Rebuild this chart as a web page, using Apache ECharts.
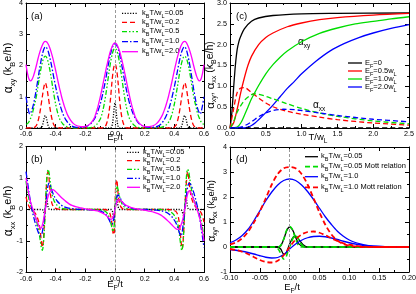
<!DOCTYPE html>
<html><head><meta charset="utf-8">
<script src="https://cdn.jsdelivr.net/npm/echarts@6/dist/echarts.min.js"></script>
<style>html,body{margin:0;padding:0;background:#fff}#c{width:416px;height:294px}</style>
</head><body><div id="c"></div>
<script>
// ---------- labels ----------
const tempLabels = ['0.05','0.2','0.5','1.0','2.0'];
const efLabels = ['0','0.5w','1.0w','2.0w'];
const efSubs = ['', 'L', 'L', 'L'];
const dLegendLabels = ['=0.05','=0.05 Mott relation','=1.0','=1.0 Mott relation'];

// ---------- panel (a): alpha_xy vs E_F/t ----------
const aT005 = [[-0.6,0],[-0.5,0],[-0.495,0.02],[-0.49,0.07],[-0.485,0.16],[-0.48,0.27],[-0.475,0.36],[-0.47,0.4],[-0.465,0.36],[-0.46,0.27],[-0.455,0.16],[-0.45,0.07],[-0.445,0.02],[-0.44,0],
 [-0.03,0],[-0.025,0.02],[-0.02,0.07],[-0.015,0.2],[-0.01,0.42],[-0.005,0.68],[0,0.8],[0.005,0.68],[0.01,0.42],[0.015,0.2],[0.02,0.07],[0.025,0.02],[0.03,0],
 [0.44,0],[0.445,0.02],[0.45,0.07],[0.455,0.16],[0.46,0.27],[0.465,0.36],[0.47,0.4],[0.475,0.36],[0.48,0.27],[0.485,0.16],[0.49,0.07],[0.495,0.02],[0.5,0],[0.6,0]];
const aT02 = [[-0.6,0],[-0.55,0],[-0.54,0.03],[-0.53,0.08],[-0.52,0.2],[-0.51,0.4],[-0.5,0.68],[-0.49,1.0],[-0.48,1.3],[-0.47,1.45],[-0.46,1.3],[-0.45,1.0],[-0.44,0.68],[-0.43,0.4],[-0.42,0.2],[-0.41,0.08],[-0.4,0.03],[-0.39,0],
 [-0.08,0],[-0.07,0.03],[-0.06,0.1],[-0.05,0.25],[-0.04,0.52],[-0.03,0.95],[-0.02,1.5],[-0.01,1.9],[0,2.05],[0.01,1.9],[0.02,1.5],[0.03,0.95],[0.04,0.52],[0.05,0.25],[0.06,0.1],[0.07,0.03],[0.08,0],
 [0.39,0],[0.4,0.03],[0.41,0.08],[0.42,0.2],[0.43,0.4],[0.44,0.68],[0.45,1.0],[0.46,1.3],[0.47,1.45],[0.48,1.3],[0.49,1.0],[0.5,0.68],[0.51,0.4],[0.52,0.2],[0.53,0.08],[0.54,0.03],[0.55,0],[0.6,0]];
const aT05 = [[-0.6,0.12],[-0.59,0.14],[-0.58,0.2],[-0.57,0.3],[-0.56,0.42],[-0.55,0.6],[-0.54,0.8],[-0.53,1.02],[-0.52,1.3],[-0.51,1.6],[-0.5,1.88],[-0.49,2.1],[-0.48,2.25],[-0.47,2.3],[-0.46,2.25],[-0.45,2.1],[-0.44,1.88],[-0.43,1.6],[-0.42,1.3],[-0.41,1.02],[-0.4,0.76],[-0.39,0.55],[-0.38,0.38],[-0.37,0.26],[-0.35,0.12],[-0.33,0.05],[-0.31,0.02],[-0.28,0],
 [-0.18,0],[-0.16,0.02],[-0.14,0.05],[-0.12,0.13],[-0.1,0.28],[-0.09,0.41],[-0.08,0.6],[-0.07,0.84],[-0.06,1.13],[-0.05,1.46],[-0.04,1.8],[-0.03,2.1],[-0.02,2.34],[-0.01,2.5],[0,2.55],[0.01,2.5],[0.02,2.34],[0.03,2.1],[0.04,1.8],[0.05,1.46],[0.06,1.13],[0.07,0.84],[0.08,0.6],[0.09,0.41],[0.1,0.28],[0.12,0.13],[0.14,0.05],[0.16,0.02],[0.18,0],
 [0.28,0],[0.31,0.02],[0.33,0.05],[0.35,0.12],[0.37,0.26],[0.38,0.38],[0.39,0.55],[0.4,0.76],[0.41,1.02],[0.42,1.3],[0.43,1.6],[0.44,1.88],[0.45,2.1],[0.46,2.25],[0.47,2.3],[0.48,2.25],[0.49,2.1],[0.5,1.88],[0.51,1.6],[0.52,1.3],[0.53,1.02],[0.54,0.8],[0.55,0.6],[0.56,0.42],[0.57,0.3],[0.58,0.2],[0.59,0.14],[0.6,0.12]];
const aT10 = [[-0.6,1.0],[-0.59,0.72],[-0.58,0.5],[-0.575,0.45],[-0.57,0.47],[-0.56,0.58],[-0.55,0.75],[-0.54,0.98],[-0.53,1.25],[-0.52,1.55],[-0.51,1.85],[-0.5,2.12],[-0.49,2.35],[-0.48,2.52],[-0.47,2.6],[-0.46,2.56],[-0.45,2.45],[-0.44,2.27],[-0.43,2.05],[-0.42,1.8],[-0.41,1.55],[-0.4,1.32],[-0.39,1.1],[-0.38,0.9],[-0.37,0.72],[-0.35,0.44],[-0.33,0.25],[-0.31,0.13],[-0.29,0.06],[-0.27,0.03],[-0.25,0.02],
 [-0.22,0.02],[-0.2,0.04],[-0.18,0.08],[-0.16,0.15],[-0.14,0.28],[-0.12,0.48],[-0.1,0.76],[-0.09,0.94],[-0.08,1.15],[-0.07,1.38],[-0.06,1.63],[-0.05,1.9],[-0.04,2.15],[-0.03,2.37],[-0.02,2.55],[-0.01,2.66],[0,2.7],[0.01,2.66],[0.02,2.55],[0.03,2.37],[0.04,2.15],[0.05,1.9],[0.06,1.63],[0.07,1.38],[0.08,1.15],[0.09,0.94],[0.1,0.76],[0.12,0.48],[0.14,0.28],[0.16,0.15],[0.18,0.08],[0.2,0.04],[0.22,0.02],
 [0.25,0.02],[0.27,0.03],[0.29,0.06],[0.31,0.13],[0.33,0.25],[0.35,0.44],[0.37,0.72],[0.38,0.9],[0.39,1.1],[0.4,1.32],[0.41,1.55],[0.42,1.8],[0.43,2.05],[0.44,2.27],[0.45,2.45],[0.46,2.56],[0.47,2.6],[0.48,2.52],[0.49,2.35],[0.5,2.12],[0.51,1.85],[0.52,1.55],[0.53,1.25],[0.54,0.98],[0.55,0.75],[0.56,0.58],[0.57,0.47],[0.575,0.45],[0.58,0.5],[0.59,0.72],[0.6,1.0]];
const aT20 = [[-0.6,2.03],[-0.59,1.75],[-0.58,1.57],[-0.57,1.51],[-0.56,1.55],[-0.55,1.66],[-0.54,1.82],[-0.53,2.0],[-0.52,2.2],[-0.51,2.38],[-0.5,2.53],[-0.49,2.65],[-0.48,2.74],[-0.47,2.77],[-0.46,2.75],[-0.45,2.68],[-0.44,2.57],[-0.43,2.42],[-0.42,2.25],[-0.41,2.05],[-0.4,1.84],[-0.39,1.62],[-0.38,1.4],[-0.37,1.2],[-0.36,1.0],[-0.35,0.83],[-0.34,0.67],[-0.33,0.54],[-0.32,0.42],[-0.3,0.25],[-0.28,0.14],[-0.26,0.08],[-0.24,0.05],[-0.22,0.04],[-0.2,0.05],[-0.18,0.09],[-0.16,0.17],[-0.14,0.32],[-0.13,0.45],[-0.12,0.6],[-0.11,0.78],[-0.1,0.98],[-0.09,1.2],[-0.08,1.43],[-0.07,1.66],[-0.06,1.89],[-0.05,2.1],[-0.04,2.3],[-0.03,2.47],[-0.02,2.6],[-0.01,2.69],[0,2.73],
 [0.01,2.69],[0.02,2.6],[0.03,2.47],[0.04,2.3],[0.05,2.1],[0.06,1.89],[0.07,1.66],[0.08,1.43],[0.09,1.2],[0.1,0.98],[0.11,0.78],[0.12,0.6],[0.13,0.45],[0.14,0.32],[0.16,0.17],[0.18,0.09],[0.2,0.05],[0.22,0.04],[0.24,0.05],[0.26,0.08],[0.28,0.14],[0.3,0.25],[0.32,0.42],[0.33,0.54],[0.34,0.67],[0.35,0.83],[0.36,1.0],[0.37,1.2],[0.38,1.4],[0.39,1.62],[0.4,1.84],[0.41,2.05],[0.42,2.25],[0.43,2.42],[0.44,2.57],[0.45,2.68],[0.46,2.75],[0.47,2.77],[0.48,2.74],[0.49,2.65],[0.5,2.53],[0.51,2.38],[0.52,2.2],[0.53,2.0],[0.54,1.82],[0.55,1.66],[0.56,1.55],[0.57,1.51],[0.58,1.57],[0.59,1.75],[0.6,2.03]];

// ---------- panel (b): alpha_xx vs E_F/t ----------
const bT005 = [[-0.6,0],[-0.5,0],[-0.485,-0.02],[-0.48,-0.08],[-0.476,-0.12],[-0.472,-0.06],[-0.468,0.08],[-0.464,0.25],[-0.46,0.35],[-0.456,0.25],[-0.452,0.1],[-0.446,0.02],[-0.44,0],
 [-0.025,0],[-0.02,-0.02],[-0.015,-0.1],[-0.01,-0.28],[-0.005,-0.2],[0,0.08],[0.005,0.33],[0.01,0.42],[0.015,0.3],[0.02,0.12],[0.025,0.03],[0.03,0],
 [0.44,0],[0.45,-0.03],[0.455,-0.1],[0.46,-0.18],[0.464,-0.12],[0.468,0],[0.472,0.15],[0.476,0.3],[0.48,0.35],[0.484,0.25],[0.488,0.1],[0.494,0.02],[0.5,0],[0.6,0]];
const bT02 = [[-0.6,0.4],[-0.59,0.22],[-0.58,0.1],[-0.57,0.03],[-0.56,-0.02],[-0.545,-0.08],[-0.53,-0.18],[-0.515,-0.38],[-0.505,-0.65],[-0.497,-1.0],[-0.49,-1.2],[-0.484,-1.05],[-0.478,-0.6],[-0.47,0],[-0.464,0.6],[-0.458,1.05],[-0.452,1.2],[-0.446,1.05],[-0.44,0.72],[-0.432,0.38],[-0.424,0.18],[-0.41,0.06],[-0.39,0.02],[-0.36,0],
 [-0.07,0],[-0.05,-0.03],[-0.035,-0.12],[-0.025,-0.3],[-0.018,-0.55],[-0.012,-0.78],[-0.007,-0.8],[-0.003,-0.5],[0,0],[0.003,0.55],[0.007,0.9],[0.012,0.95],[0.018,0.65],[0.025,0.35],[0.035,0.13],[0.05,0.03],[0.07,0],
 [0.36,0],[0.39,-0.02],[0.41,-0.06],[0.424,-0.18],[0.432,-0.38],[0.44,-0.72],[0.446,-1.05],[0.452,-1.25],[0.458,-1.1],[0.464,-0.6],[0.47,0],[0.478,0.6],[0.484,1.05],[0.49,1.2],[0.497,1.0],[0.505,0.65],[0.515,0.38],[0.53,0.18],[0.545,0.08],[0.56,0.02],[0.57,-0.03],[0.58,-0.1],[0.59,-0.22],[0.6,-0.4]];
const bT05 = [[-0.6,0.9],[-0.59,0.58],[-0.58,0.33],[-0.57,0.15],[-0.56,0.02],[-0.545,-0.15],[-0.53,-0.35],[-0.515,-0.65],[-0.505,-0.95],[-0.497,-1.2],[-0.49,-1.3],[-0.483,-1.12],[-0.477,-0.7],[-0.47,0],[-0.463,0.75],[-0.457,1.15],[-0.45,1.27],[-0.443,1.12],[-0.435,0.82],[-0.425,0.5],[-0.41,0.27],[-0.39,0.13],[-0.37,0.06],[-0.34,0.02],[-0.3,0],
 [-0.12,0],[-0.08,-0.03],[-0.06,-0.08],[-0.045,-0.18],[-0.033,-0.35],[-0.022,-0.55],[-0.014,-0.7],[-0.008,-0.62],[-0.003,-0.3],[0,0],[0.003,0.3],[0.008,0.62],[0.014,0.75],[0.022,0.6],[0.033,0.38],[0.045,0.2],[0.06,0.09],[0.08,0.03],[0.12,0],
 [0.3,0],[0.34,-0.02],[0.37,-0.06],[0.39,-0.13],[0.41,-0.27],[0.425,-0.5],[0.435,-0.82],[0.443,-1.12],[0.45,-1.3],[0.457,-1.15],[0.463,-0.75],[0.47,0],[0.477,0.7],[0.483,1.12],[0.49,1.28],[0.497,1.2],[0.505,0.95],[0.515,0.65],[0.53,0.35],[0.545,0.15],[0.56,-0.02],[0.57,-0.15],[0.58,-0.33],[0.59,-0.58],[0.6,-0.9]];
const bT10 = [[-0.6,1.2],[-0.59,0.88],[-0.58,0.55],[-0.57,0.25],[-0.56,0.0],[-0.545,-0.3],[-0.53,-0.55],[-0.515,-0.75],[-0.503,-0.84],[-0.493,-0.78],[-0.483,-0.5],[-0.47,0],[-0.46,0.45],[-0.452,0.75],[-0.445,0.84],[-0.437,0.78],[-0.425,0.6],[-0.41,0.42],[-0.39,0.27],[-0.37,0.17],[-0.35,0.1],[-0.32,0.05],[-0.28,0.02],[-0.22,0],[-0.16,-0.01],[-0.12,-0.03],[-0.09,-0.07],[-0.07,-0.12],[-0.055,-0.2],[-0.04,-0.32],[-0.03,-0.42],[-0.02,-0.46],[-0.012,-0.38],[-0.005,-0.2],[0,0],
 [0.005,0.2],[0.012,0.38],[0.02,0.46],[0.03,0.42],[0.04,0.32],[0.055,0.2],[0.07,0.12],[0.09,0.07],[0.12,0.03],[0.16,0.01],[0.22,0],[0.28,-0.02],[0.32,-0.05],[0.35,-0.1],[0.37,-0.17],[0.39,-0.27],[0.41,-0.42],[0.425,-0.6],[0.437,-0.78],[0.445,-0.84],[0.452,-0.75],[0.46,-0.45],[0.47,0],[0.483,0.5],[0.493,0.78],[0.503,0.84],[0.515,0.75],[0.53,0.55],[0.545,0.3],[0.56,0],[0.57,-0.25],[0.58,-0.55],[0.59,-0.88],[0.6,-1.2]];
const bT20 = [[-0.6,1.0],[-0.59,0.72],[-0.58,0.47],[-0.57,0.25],[-0.56,0.1],[-0.55,-0.03],[-0.54,-0.17],[-0.525,-0.38],[-0.51,-0.55],[-0.5,-0.6],[-0.49,-0.5],[-0.48,-0.28],[-0.47,0],[-0.46,0.25],[-0.45,0.43],[-0.44,0.55],[-0.43,0.62],[-0.42,0.63],[-0.405,0.59],[-0.39,0.52],[-0.37,0.42],[-0.35,0.33],[-0.33,0.25],[-0.31,0.18],[-0.29,0.13],[-0.26,0.08],[-0.23,0.05],[-0.2,0.02],[-0.17,0.0],[-0.14,-0.03],[-0.11,-0.06],[-0.09,-0.1],[-0.07,-0.15],[-0.055,-0.21],[-0.042,-0.27],[-0.03,-0.31],[-0.02,-0.3],[-0.01,-0.2],[0,0],
 [0.01,0.2],[0.02,0.3],[0.03,0.31],[0.042,0.27],[0.055,0.21],[0.07,0.15],[0.09,0.1],[0.11,0.06],[0.14,0.03],[0.17,0.0],[0.2,-0.02],[0.23,-0.05],[0.26,-0.08],[0.29,-0.13],[0.31,-0.18],[0.33,-0.25],[0.35,-0.33],[0.37,-0.42],[0.39,-0.52],[0.405,-0.59],[0.42,-0.63],[0.43,-0.62],[0.44,-0.55],[0.45,-0.43],[0.46,-0.25],[0.47,0],[0.48,0.28],[0.49,0.5],[0.5,0.6],[0.51,0.55],[0.525,0.38],[0.54,0.17],[0.55,0.03],[0.56,-0.1],[0.57,-0.25],[0.58,-0.47],[0.59,-0.72],[0.6,-1.0]];

// ---------- panel (c): alpha vs T/w_L ----------
const cXyE0 = [[0,0],[0.025,0.35],[0.05,0.95],[0.075,1.5],[0.1,1.88],[0.125,2.08],[0.15,2.2],[0.2,2.38],[0.3,2.56],[0.4,2.64],[0.6,2.7],[1.0,2.74],[1.5,2.75],[2.5,2.76]];
const cXyE05 = [[0,0],[0.05,0.12],[0.1,0.45],[0.15,0.85],[0.2,1.2],[0.25,1.5],[0.3,1.72],[0.4,2.0],[0.5,2.17],[0.6,2.28],[0.8,2.43],[1.0,2.52],[1.25,2.6],[1.5,2.65],[2.0,2.71],[2.5,2.75]];
const cXyE10 = [[0,0],[0.1,0.02],[0.15,0.12],[0.2,0.3],[0.25,0.5],[0.3,0.7],[0.35,0.86],[0.4,1.02],[0.5,1.3],[0.6,1.52],[0.7,1.7],[0.8,1.85],[1.0,2.07],[1.25,2.27],[1.5,2.4],[1.75,2.5],[2.0,2.56],[2.25,2.62],[2.5,2.67]];
const cXyE20 = [[0,0],[0.2,0],[0.25,0.02],[0.3,0.06],[0.35,0.12],[0.4,0.2],[0.5,0.37],[0.6,0.55],[0.7,0.75],[0.8,0.95],[0.9,1.12],[1.0,1.3],[1.2,1.6],[1.4,1.85],[1.6,2.03],[1.8,2.17],[2.0,2.28],[2.25,2.39],[2.5,2.48]];
const cXxE0 = [[0,0],[2.5,0]];
const cXxE05 = [[0,0],[0.05,0.45],[0.1,0.85],[0.15,0.96],[0.2,0.97],[0.3,0.85],[0.4,0.72],[0.5,0.6],[0.6,0.51],[0.8,0.4],[1.0,0.33],[1.25,0.26],[1.5,0.2],[2.0,0.12],[2.5,0.07]];
const cXxE10 = [[0,0],[0.05,0.15],[0.1,0.38],[0.2,0.66],[0.3,0.8],[0.35,0.82],[0.4,0.81],[0.5,0.76],[0.6,0.7],[0.8,0.58],[1.0,0.47],[1.25,0.36],[1.5,0.28],[2.0,0.17],[2.5,0.1]];
const cXxE20 = [[0,0],[0.15,0.02],[0.2,0.05],[0.3,0.15],[0.4,0.27],[0.5,0.36],[0.6,0.42],[0.75,0.45],[0.9,0.44],[1.0,0.42],[1.25,0.36],[1.5,0.3],[2.0,0.21],[2.5,0.15]];

// ---------- panel (d): alpha vs E_F/t, Mott relation ----------
const dXyT005 = [[-0.1,0],[-0.02,0],[-0.015,0.05],[-0.01,0.3],[-0.005,0.65],[0,0.8],[0.005,0.68],[0.01,0.38],[0.015,0.14],[0.02,0.04],[0.025,0],[0.2,0]];
const dXxT005 = [[-0.1,0],[-0.02,0],[-0.015,-0.08],[-0.01,-0.28],[-0.006,-0.25],[-0.002,0],[0.003,0.28],[0.008,0.42],[0.012,0.4],[0.017,0.25],[0.022,0.1],[0.027,0.02],[0.032,0],[0.2,0]];
const dXyT005M = [[-0.1,0],[-0.02,0],[-0.015,0.06],[-0.01,0.32],[-0.005,0.68],[0,0.82],[0.005,0.68],[0.01,0.32],[0.015,0.06],[0.02,0],[0.2,0]];
const dXxT005M = [[-0.1,0],[-0.025,0],[-0.02,-0.06],[-0.015,-0.25],[-0.01,-0.48],[-0.006,-0.4],[-0.002,-0.1],[0.002,0.12],[0.006,0.38],[0.01,0.45],[0.014,0.35],[0.018,0.15],[0.023,0.03],[0.028,0],[0.2,0]];
const dXyT10 = [[-0.1,0.17],[-0.09,0.28],[-0.08,0.45],[-0.07,0.7],[-0.06,1.05],[-0.05,1.45],[-0.04,1.85],[-0.03,2.2],[-0.02,2.48],[-0.01,2.66],[0,2.72],[0.01,2.66],[0.02,2.48],[0.03,2.22],[0.04,1.9],[0.05,1.55],[0.06,1.2],[0.07,0.9],[0.08,0.63],[0.09,0.43],[0.1,0.28],[0.11,0.18],[0.12,0.11],[0.13,0.06],[0.14,0.03],[0.16,0.01],[0.2,0]];
const dXxT10 = [[-0.1,-0.1],[-0.09,-0.13],[-0.08,-0.17],[-0.07,-0.22],[-0.06,-0.28],[-0.05,-0.35],[-0.04,-0.41],[-0.03,-0.44],[-0.02,-0.42],[-0.01,-0.3],[0,-0.08],[0.01,0.12],[0.02,0.27],[0.03,0.37],[0.04,0.42],[0.05,0.43],[0.06,0.41],[0.07,0.36],[0.08,0.3],[0.09,0.23],[0.1,0.17],[0.11,0.12],[0.12,0.08],[0.13,0.05],[0.14,0.03],[0.16,0.01],[0.2,0]];
const dXyT10M = [[-0.1,0.1],[-0.09,0.18],[-0.08,0.34],[-0.07,0.6],[-0.06,0.98],[-0.05,1.42],[-0.04,1.95],[-0.03,2.5],[-0.02,2.92],[-0.01,3.15],[0,3.2],[0.01,3.15],[0.02,2.92],[0.03,2.5],[0.04,1.95],[0.05,1.38],[0.06,0.88],[0.07,0.5],[0.08,0.26],[0.09,0.12],[0.1,0.05],[0.11,0.02],[0.12,0],[0.2,0]];
const dXxT10M = [[-0.1,-0.08],[-0.09,-0.12],[-0.08,-0.19],[-0.07,-0.28],[-0.06,-0.4],[-0.05,-0.52],[-0.04,-0.6],[-0.03,-0.62],[-0.02,-0.55],[-0.01,-0.33],[0,0],[0.01,0.3],[0.02,0.5],[0.03,0.6],[0.04,0.62],[0.05,0.57],[0.06,0.47],[0.07,0.35],[0.08,0.24],[0.09,0.15],[0.1,0.09],[0.11,0.05],[0.12,0.02],[0.14,0],[0.2,0]];

// ---------- styling ----------
const FONT = '"Liberation Sans", Arial, Helvetica, sans-serif';
const BLACK = '#000000', RED = '#ff0000', GREEN = '#00dd00', BLUE = '#0000ff', MAG = '#ff00ff';
const tempColors = [BLACK, RED, GREEN, BLUE, MAG];
const tempDash = [[1.2,1.5],[5,3],[5,2,1.5,2,1.5,2],[6,2,1.5,2],null];
const efColors = [BLACK, RED, GREEN, BLUE];

const grids = [
  {left:26, top:3, width:178, height:125},
  {left:26, top:146.5, width:178, height:126},
  {left:230, top:3, width:179, height:125},
  {left:230, top:147, width:179, height:125}
];
const fmt0 = v => String(Math.round(v));
const fmt1 = v => (Math.abs(v) < 1e-9 ? 0 : v).toFixed(1);
const fmt2 = v => (Math.abs(v) < 1e-9 ? 0 : v).toFixed(2);
const axSpec = [
  {x:[-0.6,0.6,0.2,fmt1], y:[0,4,1,fmt0]},
  {x:[-0.6,0.6,0.2,fmt1], y:[-2,2,1,fmt0]},
  {x:[0,2.5,0.5,fmt1], y:[0,3,0.5,fmt1]},
  {x:[-0.1,0.2,0.05,fmt2], y:[-1,4,1,fmt0]}
];
function axis(gi, spec, pos, showLabel) {
  return {
    type:'value', gridIndex:gi, min:spec[0], max:spec[1], interval:spec[2], position:pos,
    axisLine:{show:true, onZero:false, lineStyle:{color:'#000', width:1}},
    axisTick:{show:true, inside:true, length:4, lineStyle:{color:'#000', width:1}},
    minorTick:{show:true, splitNumber:2, length:2, lineStyle:{color:'#000', width:1}},
    splitLine:{show:false}, minorSplitLine:{show:false},
    axisLabel:{show:showLabel, fontSize:7.2, fontFamily:FONT, color:'#000', margin:3, formatter:spec[3], showMinLabel:true, showMaxLabel:true, hideOverlap:false}
  };
}
const xAxes = [], yAxes = [];
axSpec.forEach((s, gi) => {
  xAxes.push(axis(gi, s.x, 'bottom', true), axis(gi, s.x, 'top', false));
  yAxes.push(axis(gi, s.y, 'left', true), axis(gi, s.y, 'right', false));
});

function line(name, data, gi, color, dash, width) {
  return {
    type:'line', name, data, xAxisIndex:gi*2, yAxisIndex:gi*2,
    showSymbol:false, symbol:'none', smooth:0.3, clip:true, silent:true,
    lineStyle:{color, width:width || 1.3, type: dash || 'solid'}
  };
}
const zeroMark = {
  silent:true, symbol:['none','none'], label:{show:false},
  lineStyle:{color:'#999', type:[3,2], width:1}, data:[{xAxis:0}]
};

const series = [];
[aT005, aT02, aT05, aT10, aT20].forEach((d, i) => series.push(line('a'+tempLabels[i], d, 0, tempColors[i], tempDash[i])));
[bT005, bT02, bT05, bT10, bT20].forEach((d, i) => series.push(line('b'+tempLabels[i], d, 1, tempColors[i], tempDash[i])));
[cXyE0, cXyE05, cXyE10, cXyE20].forEach((d, i) => series.push(line('cxy'+i, d, 2, efColors[i], null)));
[cXxE0, cXxE05, cXxE10, cXxE20].forEach((d, i) => series.push(line('cxx'+i, d, 2, efColors[i], [5,3])));
series.push(line('d1', dXyT005, 3, BLACK, null));
series.push(line('d2', dXxT005, 3, BLACK, null));
series.push(line('d3', dXyT005M, 3, GREEN, [5,3], 1.6));
series.push(line('d4', dXxT005M, 3, GREEN, [5,3], 1.6));
series.push(line('d5', dXyT10, 3, BLUE, null));
series.push(line('d6', dXxT10, 3, BLUE, null));
series.push(line('d7', dXyT10M, 3, RED, [5,3], 1.8));
series.push(line('d8', dXxT10M, 3, RED, [5,3], 1.8));
series[0].markLine = zeroMark; series[5].markLine = zeroMark; series[18].markLine = zeroMark;

// ---------- rich text ----------
const legRich = {
  n:{fontSize:7.5, fontFamily:FONT, fill:'#000', lineHeight:9, verticalAlign:'top'},
  s:{fontSize:5.5, fontFamily:FONT, fill:'#000', lineHeight:6, padding:[4.5,0,0,0], verticalAlign:'top'}
};
function nameRich(big, small) {
  return {
    g:{fontSize:big+1, fontFamily:FONT, fill:'#000', lineHeight:big+2, verticalAlign:'top'},
    n:{fontSize:big, fontFamily:FONT, fill:'#000', lineHeight:big+2, verticalAlign:'top'},
    s:{fontSize:small, fontFamily:FONT, fill:'#000', lineHeight:small+1, padding:[big*0.55,0,0,0], verticalAlign:'top'}
  };
}
const kBT = '{n|k}{s|B}{n|T/w}{s|L}';
const graphics = [];
function txt(x, y, text, rich, extra) {
  const el = {type:'text', x, y, silent:true, style:{text, rich, align:'left', verticalAlign:'middle', fill:'#000', fontFamily:FONT}};
  if (extra && extra.rotation) el.rotation = extra.rotation;
  if (extra && extra.align) el.style.align = extra.align;
  graphics.push(el);
}
function seg(x1, x2, y, color, dash, w) {
  graphics.push({type:'line', silent:true, shape:{x1, y1:y, x2, y2:y}, style:{stroke:color, lineWidth:w || 1.3, lineDash:dash || null}});
}
// panel letters
const letterRich = {n:{fontSize:9.5, fontFamily:FONT, fill:'#000'}};
txt(31, 16, '{n|(a)}', letterRich);
txt(236, 16, '{n|(c)}', letterRich);
txt(31, 159, '{n|(b)}', letterRich);
txt(236, 159, '{n|(d)}', letterRich);
// legend (a)
const aRows = [13.3, 22.3, 31.7, 41.7, 51.7];
tempLabels.forEach((t, i) => { seg(122, 138, aRows[i], tempColors[i], tempDash[i]); txt(142, aRows[i], kBT + '{n|=' + t + '}', legRich); });
// legend (b)
const bRows = [152.3, 160.7, 169.3, 178.3, 187.3];
tempLabels.forEach((t, i) => { seg(127, 140, bRows[i], tempColors[i], tempDash[i]); txt(143, bRows[i], kBT + '{n|=' + t + '}', legRich); });
// legend (c)
const cRows = [63, 71, 79, 87];
efLabels.forEach((t, i) => { seg(348, 362, cRows[i], efColors[i], null); txt(365, cRows[i], '{n|E}{s|F}{n|=' + t + '}' + (efSubs[i] ? '{s|' + efSubs[i] + '}' : ''), legRich); });
// legend (d)
const dRows = [156.7, 166.7, 176.7, 187.3];
const dCols = [BLACK, GREEN, BLUE, RED];
const dDash = [null, [5,3], null, [5,3]];
dLegendLabels.forEach((t, i) => { seg(305, 318, dRows[i], dCols[i], dDash[i], i % 2 ? 1.7 : 1.3); txt(321, dRows[i], kBT + '{n|' + t + '}', legRich); });
// curve annotations in (c)
const annRich = nameRich(9, 6.5);
txt(298, 43, '{g|α}{s|xy}', annRich);
txt(313, 106, '{g|α}{s|xx}', annRich);
// axis names
const xr = nameRich(9.5, 6.5);
txt(115, 138.5, '{n|E}{s|F}{n|/t}', xr, {align:'center'});
txt(115, 285.5, '{n|E}{s|F}{n|/t}', xr, {align:'center'});
txt(318, 138.5, '{n|T/w}{s|L}', xr, {align:'center'});
txt(292, 288, '{n|E}{s|F}{n|/t}', xr, {align:'center'});
const yr = nameRich(11, 7.5);
const yr2 = nameRich(10.5, 7);
const yr3 = nameRich(9.5, 6.5);
txt(9, 68, '{g|α}{s|xy}{n| (k}{s|B}{n|e/h)}', yr, {rotation:Math.PI/2, align:'center'});
txt(9, 211, '{g|α}{s|xx}{n| (k}{s|B}{n|e/h)}', yr, {rotation:Math.PI/2, align:'center'});
txt(211, 75, '{g|α}{s|xy}{n|, }{g|α}{s|xx}{n| (k}{s|B}{n|e/h)}', yr2, {rotation:Math.PI/2, align:'center'});
txt(212, 211, '{g|α}{s|xy}{n|, }{g|α}{s|xx}{n| (k}{s|B}{n|e/h)}', yr3, {rotation:Math.PI/2, align:'center'});

const chart = echarts.init(document.getElementById('c'), null, {renderer:'canvas'});
chart.setOption({
  animation:false,
  backgroundColor:'#ffffff',
  grid: grids.map(g => Object.assign({containLabel:false, outerBoundsMode:'none'}, g)),
  xAxis: xAxes,
  yAxis: yAxes,
  series,
  graphic: graphics
});
</script></body></html>
